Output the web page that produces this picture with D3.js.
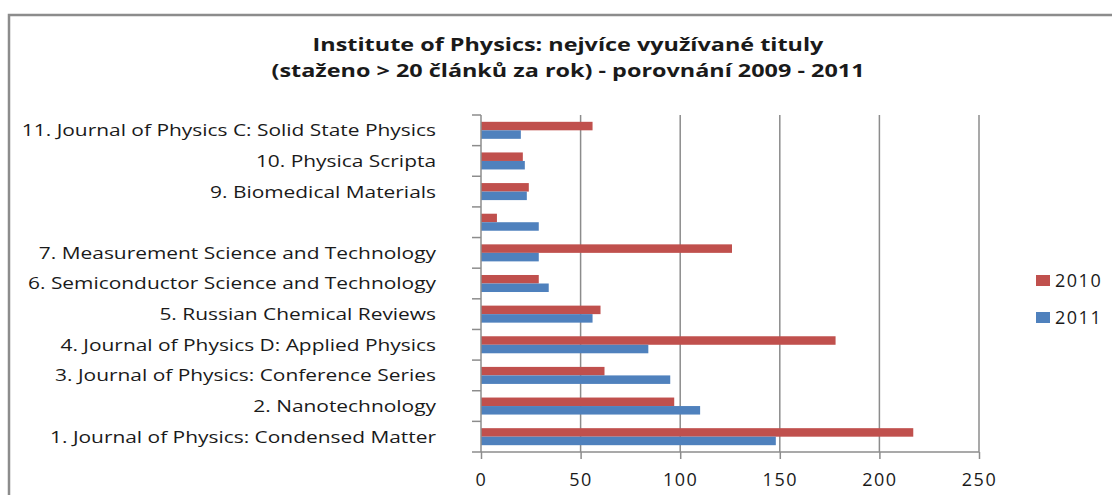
<!DOCTYPE html>
<html>
<head>
<meta charset="utf-8">
<script src="https://cdn.jsdelivr.net/npm/d3@7"></script>
<style>
  body { margin: 0; background: #fff; }
  svg { display: block; }
  text { font-family: "Open Sans", sans-serif; fill: #1a1a1a; }
</style>
</head>
<body>
<svg id="chart"></svg>
<script>
// data, top row first
const categories = [
  '11. Journal of Physics C: Solid State Physics',
  '10. Physica Scripta',
  '9. Biomedical Materials',
  '',
  '7. Measurement Science and Technology',
  '6. Semiconductor Science and Technology',
  '5. Russian Chemical Reviews',
  '4. Journal of Physics D: Applied Physics',
  '3. Journal of Physics: Conference Series',
  '2. Nanotechnology',
  '1. Journal of Physics: Condensed Matter'
];
const values2010 = [56, 21, 24, 8, 126, 29, 60, 178, 62, 97, 217];
const values2011 = [20, 22, 23, 29, 29, 34, 56, 84, 95, 110, 148];
const seriesNames = ['2010', '2011'];
const xTicks = [0, 50, 100, 150, 200, 250];
const titleLines = [
  'Institute of Physics: nejvíce využívané tituly',
  '(staženo > 20 článků za rok) - porovnání 2009 - 2011'
];

const width = 1112, height = 495;
const colors = { '2010': '#C0504D', '2011': '#4F81BD' };
const gridColor = '#8c8c8c';

const svg = d3.select('#chart')
  .attr('width', width)
  .attr('height', height);

// outer frame
svg.append('rect')
  .attr('x', 9).attr('y', 15)
  .attr('width', width + 10).attr('height', height)
  .attr('fill', 'none')
  .attr('stroke', gridColor)
  .attr('stroke-width', 2.5);

// title (the original text is a bit stretched sideways)
svg.selectAll('.title')
  .data(titleLines)
  .enter()
  .append('text')
  .attr('class', 'title')
  .attr('transform', (d, i) => 'translate(568,' + (51 + i * 26) + ') scale(1.265,1)')
  .attr('text-anchor', 'middle')
  .style('font-size', '18.5px')
  .style('font-weight', 'bold')
  .text(d => d);

const x = d3.scaleLinear()
  .domain([0, d3.max(xTicks)])
  .range([481, 979]);

const y = d3.scaleBand()
  .domain(categories)
  .range([115, 452]);

const yInner = d3.scaleBand()
  .domain(seriesNames)
  .range([0, y.bandwidth()])
  .paddingOuter(0.8);

// vertical gridlines
svg.append('g')
  .selectAll('line')
  .data(xTicks.slice(1))
  .enter()
  .append('line')
  .attr('x1', d => x(d)).attr('x2', d => x(d))
  .attr('y1', 115).attr('y2', 452)
  .attr('stroke', gridColor)
  .attr('stroke-width', 1.5);

// bars
const rows = categories.map((c, i) => ({
  cat: c,
  vals: [
    { s: '2010', v: values2010[i] },
    { s: '2011', v: values2011[i] }
  ]
}));

const group = svg.append('g')
  .selectAll('g')
  .data(rows)
  .enter()
  .append('g')
  .attr('transform', d => 'translate(0,' + y(d.cat) + ')');

group.selectAll('rect')
  .data(d => d.vals)
  .enter()
  .append('rect')
  .attr('x', x(0))
  .attr('y', d => yInner(d.s))
  .attr('width', d => x(d.v) - x(0))
  .attr('height', yInner.bandwidth())
  .attr('fill', d => colors[d.s]);

// x axis
const xAxis = d3.axisBottom(x)
  .tickValues(xTicks)
  .tickSize(7)
  .tickPadding(14)
  .tickSizeOuter(0);

const gx = svg.append('g')
  .attr('transform', 'translate(0,452)')
  .call(xAxis);
gx.select('.domain').remove();
gx.selectAll('line').attr('stroke', gridColor).attr('stroke-width', 1.5);
gx.selectAll('text')
  .attr('fill', '#1a1a1a')
  .style('font-family', '"Open Sans", sans-serif')
  .style('font-size', '18px')
  .style('letter-spacing', '1.5px');

svg.append('line')
  .attr('x1', 472).attr('x2', x(250))
  .attr('y1', 452).attr('y2', 452)
  .attr('stroke', gridColor).attr('stroke-width', 1.5);

// y axis, ticks between categories
svg.append('line')
  .attr('x1', x(0)).attr('x2', x(0))
  .attr('y1', 115).attr('y2', 452)
  .attr('stroke', gridColor).attr('stroke-width', 1.5);

const bounds = categories.map(c => y(c));
svg.append('g')
  .selectAll('line')
  .data(bounds)
  .enter()
  .append('line')
  .attr('x1', 472).attr('x2', x(0))
  .attr('y1', d => d).attr('y2', d => d)
  .attr('stroke', gridColor).attr('stroke-width', 1.5);

svg.append('g')
  .selectAll('text')
  .data(categories)
  .enter()
  .append('text')
  .attr('transform', d => 'translate(436,' + (y(d) + y.bandwidth() / 2) + ') scale(1.23,1)')
  .attr('dy', '0.35em')
  .attr('text-anchor', 'end')
  .style('font-size', '17px')
  .text(d => d);

// legend
const legend = svg.append('g')
  .selectAll('g')
  .data(seriesNames)
  .enter()
  .append('g')
  .attr('transform', (d, i) => 'translate(1036,' + (275 + i * 37) + ')');

legend.append('rect')
  .attr('width', 14).attr('height', 11)
  .attr('fill', d => colors[d]);

legend.append('text')
  .attr('x', 19).attr('y', 6)
  .attr('dy', '0.35em')
  .style('font-size', '18px')
  .style('letter-spacing', '1.5px')
  .text(d => d);
</script>
</body>
</html>
